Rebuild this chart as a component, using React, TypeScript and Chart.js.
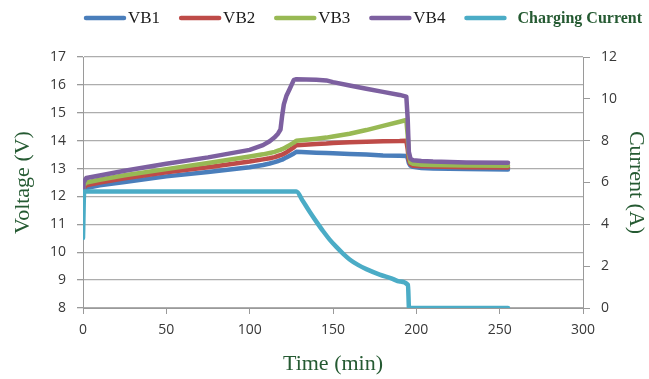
import React, { useEffect, useRef } from "react";
import { Chart, registerables } from "chart.js";

Chart.register(...registerables);

// ---- data ----
const timeV = [0, 0.3, 2, 10, 25, 50, 75, 100, 108, 112, 115, 117, 118.5, 119.5, 120.5, 122, 124, 126.5, 128, 140, 146, 150, 160, 170, 180, 190, 194, 194.8, 195.5, 196.5, 198, 203, 210, 230, 255];
const vb1 = [12.1, 12.2, 12.3, 12.4, 12.52, 12.72, 12.88, 13.05, 13.13, 13.18, 13.23, 13.27, 13.3, 13.32, 13.35, 13.4, 13.46, 13.54, 13.6, 13.57, 13.56, 13.55, 13.52, 13.5, 13.47, 13.46, 13.45, 13.38, 13.2, 13.1, 13.06, 13.02, 13.0, 12.98, 12.97];
const vb2 = [12.15, 12.3, 12.4, 12.5, 12.65, 12.87, 13.05, 13.25, 13.33, 13.37, 13.41, 13.45, 13.48, 13.5, 13.53, 13.58, 13.66, 13.76, 13.84, 13.88, 13.9, 13.92, 13.94, 13.96, 13.98, 13.99, 14.0, 13.7, 13.3, 13.15, 13.1, 13.08, 13.07, 13.05, 13.04];
const vb3 = [12.2, 12.4, 12.5, 12.6, 12.76, 12.98, 13.2, 13.43, 13.51, 13.56, 13.6, 13.64, 13.67, 13.7, 13.72, 13.77, 13.84, 13.93, 14.0, 14.07, 14.11, 14.15, 14.25, 14.38, 14.53, 14.68, 14.74, 14.2, 13.5, 13.22, 13.17, 13.14, 13.13, 13.11, 13.1];
const vb4 = [12.2, 12.5, 12.66, 12.75, 12.92, 13.17, 13.4, 13.67, 13.84, 13.98, 14.12, 14.25, 14.4, 14.9, 15.3, 15.6, 15.85, 16.18, 16.2, 16.18, 16.16, 16.1, 15.98, 15.86, 15.75, 15.64, 15.58, 14.8, 13.6, 13.35, 13.3, 13.27, 13.25, 13.22, 13.21];
const timeI = [0, 0.7, 128, 132, 136, 140, 144, 148, 152, 156, 160, 165, 170, 178, 185, 190, 195, 195.6, 255];
const current = [3.35, 5.57, 5.57, 5.1, 4.6, 4.13, 3.68, 3.27, 2.92, 2.6, 2.32, 2.06, 1.86, 1.6, 1.42, 1.27, 1.1, 0, 0];

const seriesNames = ["VB1", "VB2", "VB3", "VB4", "Charging Current"];
const seriesColors = ["#4a7ebb", "#be4b48", "#98b954", "#7d60a0", "#4bacc6"];

const xTitle = "Time (min)";
const yTitle = "Voltage (V)";
const y1Title = "Current (A)";

const titleColor = "#255a32";
const tickColor = "#383838";

const pts = (xs: number[], ys: number[]) => xs.map((x, i) => ({ x, y: ys[i] }));

const legendPlugin = {
  id: "customLegend",
  afterDraw(chart: any) {
    const ctx = chart.ctx;
    ctx.save();
    let x = 86;
    const y = 18;
    const lineLen = 38;
    seriesNames.forEach((name, i) => {
      const last = i === seriesNames.length - 1;
      ctx.strokeStyle = seriesColors[i];
      ctx.lineWidth = 4.5;
      ctx.lineCap = "round";
      ctx.beginPath();
      ctx.moveTo(x, y);
      ctx.lineTo(x + lineLen, y);
      ctx.stroke();
      x += lineLen + (last ? 13 : 4);
      ctx.font = last ? "bold 16px 'Liberation Serif'" : "17px 'Liberation Serif'";
      ctx.fillStyle = last ? titleColor : "#1a1a1a";
      ctx.textBaseline = "middle";
      ctx.textAlign = "left";
      ctx.fillText(name, x, y + 1);
      x += ctx.measureText(name).width + 21;
    });
    ctx.restore();
  },
};

export default function App() {
  const ref = useRef<HTMLCanvasElement | null>(null);
  useEffect(() => {
    if (!ref.current) return;
    const common = { borderWidth: 4.5, pointRadius: 0, tension: 0, fill: false, borderCapStyle: "round", borderJoinStyle: "round" };
    const chart = new Chart(ref.current, {
      type: "line",
      data: {
        datasets: [
          { label: seriesNames[0], data: pts(timeV, vb1), borderColor: seriesColors[0], backgroundColor: seriesColors[0], yAxisID: "y", order: 4, ...common },
          { label: seriesNames[1], data: pts(timeV, vb2), borderColor: seriesColors[1], backgroundColor: seriesColors[1], yAxisID: "y", order: 3, ...common },
          { label: seriesNames[2], data: pts(timeV, vb3), borderColor: seriesColors[2], backgroundColor: seriesColors[2], yAxisID: "y", order: 2, ...common },
          { label: seriesNames[3], data: pts(timeV, vb4), borderColor: seriesColors[3], backgroundColor: seriesColors[3], yAxisID: "y", order: 1, ...common },
          { label: seriesNames[4], data: pts(timeI, current), borderColor: seriesColors[4], backgroundColor: seriesColors[4], yAxisID: "y1", order: 0, ...common, cubicInterpolationMode: "monotone" },
        ] as any,
      },
      options: {
        animation: false,
        responsive: false,
        layout: { padding: { top: 57, left: 0, right: 0, bottom: 0 } },
        plugins: { legend: { display: false }, tooltip: { enabled: false } },
        scales: {
          x: {
            type: "linear",
            min: 0,
            max: 300,
            ticks: { stepSize: 50, color: tickColor, padding: 8, font: { family: "'Open Sans'", size: 14 }, maxRotation: 0 },
            grid: { drawOnChartArea: false, tickLength: 6, color: "#9a9a9a" },
            border: { display: true, color: "#9a9a9a", width: 1 },
            title: { display: true, text: xTitle, color: titleColor, font: { family: "'Liberation Serif'", size: 22 }, padding: { top: 0, bottom: 2 } },
            afterFit: (s: any) => { s.height = 71; },
          },
          y: {
            type: "linear",
            position: "left",
            min: 8,
            max: 17,
            ticks: { stepSize: 1, color: tickColor, padding: 11, font: { family: "'Open Sans'", size: 14 } },
            grid: { color: "#adadad", lineWidth: 1.3, tickLength: 6, tickColor: "#9a9a9a" },
            border: { display: true, color: "#9a9a9a", width: 1 },
            title: { display: true, text: yTitle, color: titleColor, font: { family: "'Liberation Serif'", size: 22 }, padding: { top: 10, bottom: 0 } },
            afterFit: (s: any) => { s.width = 83; },
          },
          y1: {
            type: "linear",
            position: "right",
            min: 0,
            max: 12,
            ticks: { stepSize: 2, color: tickColor, padding: 11, font: { family: "'Open Sans'", size: 14 } },
            grid: { drawOnChartArea: false, tickLength: 7, color: "#9a9a9a" },
            border: { display: true, color: "#9a9a9a", width: 1 },
            title: { display: true, text: y1Title, color: titleColor, font: { family: "'Liberation Serif'", size: 22 }, padding: { top: 0, bottom: 0 } },
            afterFit: (s: any) => { s.width = 66; },
          },
        },
      } as any,
      plugins: [legendPlugin],
    });
    return () => chart.destroy();
  }, []);
  return (
    <div style={{ position: "fixed", left: 0, top: 0, width: 649, height: 379, background: "#fff" }}>
      <canvas ref={ref} width={649} height={379} style={{ display: "block", width: 649, height: 379 }} />
    </div>
  );
}
